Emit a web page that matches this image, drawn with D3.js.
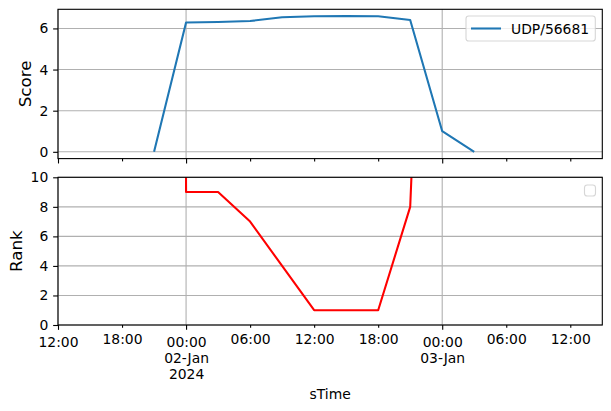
<!DOCTYPE html>
<html>
<head>
<meta charset="utf-8">
<script src="https://cdn.jsdelivr.net/npm/d3@7"></script>
<style>
  body { margin: 0; background: #fff; }
  text { font-family: "DejaVu Sans", sans-serif; }
</style>
</head>
<body>
<svg id="chart" width="611" height="411"></svg>
<script>
// data (3-hourly samples)
const times = ["2024-01-01T21:00", "2024-01-02T00:00", "2024-01-02T03:00", "2024-01-02T06:00",
  "2024-01-02T09:00", "2024-01-02T12:00", "2024-01-02T15:00", "2024-01-02T18:00",
  "2024-01-02T21:00", "2024-01-03T00:00", "2024-01-03T03:00"];
const scores = [0, 6.29, 6.31, 6.36, 6.54, 6.59, 6.60, 6.59, 6.41, 1.0, 0];
const ranks = [500, 9, 9, 7, 4, 1, 1, 1, 8, 60, 80];
const seriesName = "UDP/56681";

const xDomain = ["2024-01-01T12:00", "2024-01-03T15:00"];
const majorTicks = ["2024-01-01T12:00", "2024-01-02T00:00", "2024-01-03T00:00"];
const majorLabels = ["12:00", "00:00\n02-Jan\n2024", "00:00\n03-Jan"];
const minorTicks = ["2024-01-01T18:00", "2024-01-02T06:00", "2024-01-02T12:00", "2024-01-02T18:00",
  "2024-01-03T06:00", "2024-01-03T12:00"];
const scoreTicks = [0, 2, 4, 6];
const rankTicks = [0, 2, 4, 6, 8, 10];

const parse = d3.utcParse("%Y-%m-%dT%H:%M");
const fmt = d3.utcFormat("%H:%M");

var left = 58, right = 602.3;
var top1 = 9.3, bot1 = 158.6, top2 = 177.3, bot2 = 325;

const svg = d3.select("#chart");

var x = d3.scaleUtc()
  .domain(xDomain.map(parse))
  .range([left, right]);

var sMax = d3.max(scores), sMin = d3.min(scores);
var pad = (sMax - sMin) * 0.05;
var yScore = d3.scaleLinear()
  .domain([sMin - pad, sMax + pad])
  .range([bot1, top1]);

var yRank = d3.scaleLinear()
  .domain([0, 10])
  .range([bot2, top2]);

const data = times.map((t, i) => ({ t: parse(t), score: scores[i], rank: ranks[i] }));

function panel(y, yTicks, top, bot, clipId) {
  let g = svg.append("g");

  // grid
  g.append("g").selectAll("line")
    .data(yTicks)
    .enter().append("line")
    .attr("x1", left).attr("x2", right)
    .attr("y1", d => y(d)).attr("y2", d => y(d))
    .attr("stroke", "#b0b0b0").attr("stroke-width", 1.1);
  g.append("g").selectAll("line")
    .data(majorTicks.map(parse))
    .enter().append("line")
    .attr("x1", d => x(d)).attr("x2", d => x(d))
    .attr("y1", top).attr("y2", bot)
    .attr("stroke", "#b0b0b0").attr("stroke-width", 1.1);

  svg.append("clipPath").attr("id", clipId)
    .append("rect")
    .attr("x", left).attr("y", top)
    .attr("width", right - left).attr("height", bot - top);

  return g;
}

// ---- top: score
let g1 = panel(yScore, scoreTicks, top1, bot1, "clip1");
g1.append("path")
  .datum(data)
  .attr("clip-path", "url(#clip1)")
  .attr("fill", "none")
  .attr("stroke", "#1f77b4")
  .attr("stroke-width", 2.08)
  .attr("stroke-linejoin", "round")
  .attr("d", d3.line().x(d => x(d.t)).y(d => yScore(d.score)));

// ---- bottom: rank
let g2 = panel(yRank, rankTicks, top2, bot2, "clip2");
g2.append("path")
  .datum(data)
  .attr("clip-path", "url(#clip2)")
  .attr("fill", "none")
  .attr("stroke", "#ff0000")
  .attr("stroke-width", 2.08)
  .attr("stroke-linejoin", "round")
  .attr("d", d3.line().x(d => x(d.t)).y(d => yRank(d.rank)));

// spines
[[top1, bot1], [top2, bot2]].forEach(function(p) {
  svg.append("rect")
    .attr("x", left).attr("y", p[0])
    .attr("width", right - left).attr("height", p[1] - p[0])
    .attr("fill", "none").attr("stroke", "#000").attr("stroke-width", 1.1);
});

// y axes
function yAxis(y, ticks) {
  return d3.axisLeft(y).tickValues(ticks).tickSize(4.86).tickPadding(4.86);
}
svg.append("g").attr("transform", "translate(" + left + ",0)")
  .call(yAxis(yScore, scoreTicks));
svg.append("g").attr("transform", "translate(" + left + ",0)")
  .call(yAxis(yRank, rankTicks));

// x axes (major + minor ticks on both panels, labels only on the bottom)
function xAxes(yPos, labels) {
  let gMin = svg.append("g").attr("transform", "translate(0," + yPos + ")")
    .call(d3.axisBottom(x).tickValues(minorTicks.map(parse)).tickSize(2.78)
      .tickFormat(labels ? fmt : () => ""));
  let gMaj = svg.append("g").attr("transform", "translate(0," + yPos + ")")
    .call(d3.axisBottom(x).tickValues(majorTicks.map(parse)).tickSize(4.86)
      .tickFormat((d, i) => labels ? majorLabels[i] : ""));
  gMin.selectAll(".tick text").attr("y", 19).attr("dy", null);
  gMaj.selectAll(".tick text").each(function() {
    let t = d3.select(this);
    let lines = t.text().split("\n");
    t.text("").attr("y", null).attr("dy", null);
    lines.forEach(function(s, k) {
      t.append("tspan").attr("x", 0).attr("y", 22.3 + k * 16).text(s);
    });
  });
}
xAxes(bot1, false);
xAxes(bot2, true);

svg.selectAll(".domain").remove();
svg.selectAll(".tick line").attr("stroke", "#000").attr("stroke-width", 1.1);
svg.selectAll(".tick text").attr("font-size", "13.9px").attr("fill", "#000")
  .attr("font-family", "DejaVu Sans");

// axis labels
svg.append("text")
  .attr("transform", "translate(31," + (top1 + bot1) / 2 + ") rotate(-90)")
  .attr("text-anchor", "middle").attr("font-size", "16.7px")
  .text("Score");
svg.append("text")
  .attr("transform", "translate(22," + (top2 + bot2) / 2 + ") rotate(-90)")
  .attr("text-anchor", "middle").attr("font-size", "16.7px")
  .text("Rank");
svg.append("text")
  .attr("x", (left + right) / 2).attr("y", 399)
  .attr("text-anchor", "middle").attr("font-size", "13.9px")
  .text("sTime");

// legend (top)
let leg = svg.append("g");
leg.append("rect")
  .attr("x", 466).attr("y", 16).attr("width", 129.3).attr("height", 25).attr("rx", 2.8)
  .attr("fill", "#fff").attr("fill-opacity", 0.8)
  .attr("stroke", "#cccccc").attr("stroke-opacity", 0.8).attr("stroke-width", 1.1);
leg.append("line")
  .attr("x1", 471).attr("x2", 501).attr("y1", 28.5).attr("y2", 28.5)
  .attr("stroke", "#1f77b4").attr("stroke-width", 2.08);
leg.append("text")
  .attr("x", 511).attr("y", 33.5).attr("font-size", "13.9px")
  .text(seriesName);

// empty legend (bottom)
svg.append("rect")
  .attr("x", 584.5).attr("y", 185).attr("width", 11).attr("height", 11).attr("rx", 2.8)
  .attr("fill", "#fff").attr("fill-opacity", 0.8)
  .attr("stroke", "#cccccc").attr("stroke-opacity", 0.8).attr("stroke-width", 1.1);
</script>
</body>
</html>
